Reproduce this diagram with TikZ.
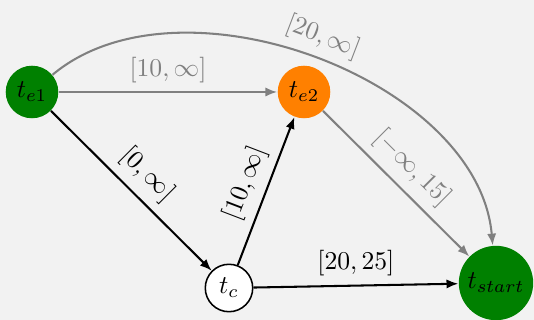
\documentclass[tikz,border=0pt]{standalone}
\usetikzlibrary{arrows.meta}
\definecolor{bg}{RGB}{242,242,242}
\definecolor{dgreen}{RGB}{0,128,0}
\definecolor{orng}{RGB}{255,128,0}
\definecolor{gry}{RGB}{128,128,128}
\begin{document}
\begin{tikzpicture}[x=0.39pt,y=0.39pt,
  state/.style={circle,inner sep=0pt},
  edge/.style={line width=0.8pt,-{Latex[length=4.6pt,width=3.6pt]}},
  gedge/.style={edge,draw=gry,color=gry},
  lbl/.style={font=\normalsize}]
\fill[bg] (0,0) rectangle (534,-320);
\useasboundingbox (0,0) rectangle (534,-320);
\node[state,fill=dgreen,minimum size=20.5pt] (te1) at (32,-92) {$t_{e1}$};
\node[state,fill=orng,minimum size=20.5pt] (te2) at (304,-92) {$t_{e2}$};
\node[state,fill=white,draw=black,line width=0.6pt,minimum size=18.5pt] (tc) at (229,-288) {$t_c$};
\node[state,fill=dgreen,minimum size=29pt] (ts) at (496,-283) {$t_{start}$};
\draw[gedge] (te1) -- node[above] {$[10,\infty]$} (te2);
\draw[gedge] (te1) to[out=40,in=95,looseness=0.9] node[pos=0.5,above,sloped] {$[20,\infty]$} (ts);
\draw[gedge] (te2) -- node[above,sloped] {$[-\infty,15]$} (ts);
\draw[edge] (te1) -- node[above,sloped] {$[0,\infty]$} (tc);
\draw[edge] (tc) -- node[above,sloped] {$[10,\infty]$} (te2);
\draw[edge] (tc) -- node[above] {$[20,25]$} (ts);
\end{tikzpicture}
\end{document}
